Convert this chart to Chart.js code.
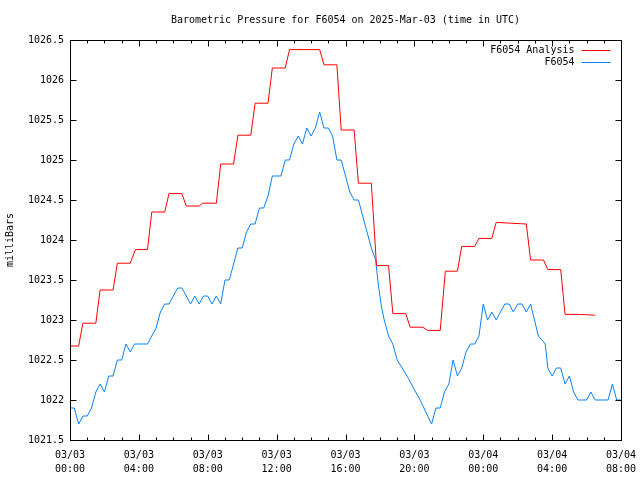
<!DOCTYPE html>
<html>
<head>
<meta charset="utf-8">
<script src="https://cdn.jsdelivr.net/npm/chart.js@4.4.1/dist/chart.umd.min.js"></script>
<style>
  html, body { margin: 0; padding: 0; background: #ffffff; }
  #wrap { width: 640px; height: 480px; }
</style>
</head>
<body>
<div id="wrap"><canvas id="c" width="640" height="480"></canvas></div>
<script>
// ---- data (hours since 03/03 00:00 UTC) ----
const chartTitle = 'Barometric Pressure for F6054 on 2025-Mar-03 (time in UTC)';
const yAxisTitle = 'milliBars';
const seriesNames = ['F6054 Analysis', 'F6054'];

const xTickDates = ['03/03', '03/03', '03/03', '03/03', '03/03', '03/03', '03/04', '03/04', '03/04'];
const xTickTimes = ['00:00', '04:00', '08:00', '12:00', '16:00', '20:00', '00:00', '04:00', '08:00'];

const analysisTimes = [0, 0.5, 0.75, 1.5, 1.75, 2.5, 2.75, 3.5, 3.8, 4.5,
  4.75, 5.5, 5.75, 6.5, 6.75, 7.5, 7.7, 8.5, 8.75, 9.5,
  9.75, 10.5, 10.75, 11.5, 11.75, 12.5, 12.75, 14.5, 14.75, 15.5,
  15.75, 16.5, 16.75, 17.5, 17.8, 18.5, 18.75, 19.5, 19.75, 20.5,
  20.75, 21.5, 21.8, 22.5, 22.75, 23.5, 23.75, 24.5, 24.75, 25.6,
  26.5, 26.75, 27.5, 27.75, 28.5, 28.75, 29.6, 30.5];
const analysisValues = [1022.675, 1022.675, 1022.96, 1022.96, 1023.375, 1023.375, 1023.71, 1023.71, 1023.88, 1023.88,
  1024.35, 1024.35, 1024.58, 1024.58, 1024.425, 1024.425, 1024.46, 1024.46, 1024.95, 1024.95,
  1025.31, 1025.31, 1025.71, 1025.71, 1026.15, 1026.15, 1026.38, 1026.38, 1026.19, 1026.19,
  1025.375, 1025.375, 1024.71, 1024.71, 1023.68, 1023.68, 1023.08, 1023.08, 1022.91, 1022.91,
  1022.87, 1022.87, 1023.61, 1023.61, 1023.92, 1023.92, 1024.02, 1024.02, 1024.22, 1024.21,
  1024.20, 1023.75, 1023.75, 1023.63, 1023.63, 1023.07, 1023.07, 1023.06];

const obsTimes = [0, 0.25, 0.5, 0.75, 1.0, 1.25, 1.5, 1.75, 2.0, 2.25,
  2.5, 2.75, 3.0, 3.25, 3.5, 3.75, 4.5, 5.0, 5.25, 5.5,
  5.75, 6.25, 6.5, 7.0, 7.25, 7.5, 7.75, 8.0, 8.25, 8.5,
  8.75, 9.0, 9.25, 9.5, 9.75, 10.0, 10.25, 10.5, 10.75, 11.0,
  11.25, 11.5, 11.75, 12.25, 12.5, 12.75, 13.0, 13.25, 13.5, 13.75,
  14.0, 14.25, 14.5, 14.75, 15.0, 15.25, 15.5, 15.75, 16.0, 16.25,
  16.5, 16.75, 17.0, 17.25, 17.5, 17.75, 17.9, 18.1, 18.25, 18.5,
  18.75, 19.0, 19.35, 19.65, 19.95, 20.33, 21.0, 21.25, 21.5, 21.75,
  22.0, 22.25, 22.5, 22.75, 23.0, 23.25, 23.5, 23.75, 24.0, 24.25,
  24.5, 24.75, 25.0, 25.25, 25.5, 25.75, 26.0, 26.25, 26.5, 26.75,
  27.2, 27.4, 27.6, 27.75, 28.0, 28.25, 28.5, 28.75, 29.0, 29.25,
  29.5, 30.0, 30.25, 30.5, 31.25, 31.5, 31.75, 32.0];
const obsValues = [1021.9, 1021.9, 1021.7, 1021.8, 1021.8, 1021.9, 1022.1, 1022.2, 1022.1, 1022.3,
  1022.3, 1022.5, 1022.5, 1022.7, 1022.6, 1022.7, 1022.7, 1022.9, 1023.1, 1023.2,
  1023.2, 1023.4, 1023.4, 1023.2, 1023.3, 1023.2, 1023.3, 1023.3, 1023.2, 1023.3,
  1023.2, 1023.5, 1023.5, 1023.7, 1023.9, 1023.9, 1024.1, 1024.2, 1024.2, 1024.4,
  1024.4, 1024.55, 1024.8, 1024.8, 1025.0, 1025.0, 1025.2, 1025.3, 1025.2, 1025.4,
  1025.3, 1025.4, 1025.6, 1025.4, 1025.4, 1025.3, 1025.0, 1025.0, 1024.8, 1024.6,
  1024.5, 1024.5, 1024.3, 1024.1, 1023.9, 1023.75, 1023.45, 1023.15, 1023.0, 1022.8,
  1022.7, 1022.5, 1022.38, 1022.27, 1022.15, 1022.0, 1021.7, 1021.9, 1021.9, 1022.1,
  1022.2, 1022.5, 1022.3, 1022.4, 1022.6, 1022.7, 1022.7, 1022.8, 1023.2, 1023.0,
  1023.1, 1023.0, 1023.1, 1023.2, 1023.2, 1023.1, 1023.2, 1023.2, 1023.1, 1023.2,
  1022.8, 1022.75, 1022.7, 1022.4, 1022.3, 1022.4, 1022.4, 1022.2, 1022.3, 1022.1,
  1022.0, 1022.0, 1022.1, 1022.0, 1022.0, 1022.2, 1022.0, 1022.0];

const X_MIN = 0, X_MAX = 32, X_MAJOR = 4, X_MINOR = 1;
const Y_MIN = 1021.5, Y_MAX = 1026.5, Y_MAJOR = 0.5;

// ---- styling ----
const FONT = 'DejaVu Sans Mono';
const seriesColors = ['#ff0000', '#0a80ff'];

function toPoints(xs, ys) { return xs.map((x, i) => ({ x: x, y: ys[i] })); }

// Gnuplot-style frame with inward ticks and a right-aligned key
const framePlugin = {
  id: 'gnuFrame',
  afterDatasetsDraw(chart) {
    const ctx = chart.ctx;
    const ca = chart.chartArea;
    const xs = chart.scales.x, ys = chart.scales.y;
    const L = Math.round(ca.left) + 0.5, R = Math.round(ca.right) + 0.5;
    const T = Math.round(ca.top) + 0.5, B = Math.round(ca.bottom) + 0.5;
    ctx.save();
    ctx.strokeStyle = '#000000';
    ctx.lineWidth = 1;
    ctx.beginPath();
    ctx.rect(L, T, R - L, B - T);
    ctx.stroke();
    ctx.beginPath();
    for (let v = X_MIN; v <= X_MAX + 1e-9; v += X_MINOR) {
      const px = Math.round(xs.getPixelForValue(v)) + 0.5;
      const len = (Math.abs(v / X_MAJOR - Math.round(v / X_MAJOR)) < 1e-6) ? 6 : 3;
      ctx.moveTo(px, B); ctx.lineTo(px, B - len);
      ctx.moveTo(px, T); ctx.lineTo(px, T + len);
    }
    for (let v = Y_MIN; v <= Y_MAX + 1e-9; v += Y_MAJOR) {
      const py = Math.round(ys.getPixelForValue(v)) + 0.5;
      ctx.moveTo(L, py); ctx.lineTo(L + 6, py);
      ctx.moveTo(R, py); ctx.lineTo(R - 6, py);
    }
    ctx.stroke();

    // key (legend): text right-aligned, then a line sample
    ctx.font = '10px "' + FONT + '"';
    ctx.textAlign = 'right';
    ctx.textBaseline = 'middle';
    chart.data.datasets.forEach((ds, i) => {
      const y = Math.round(ca.top + 10 + i * 12) + 0.5;
      ctx.fillStyle = '#000000';
      ctx.fillText(ds.label, R - 47, y);
      ctx.strokeStyle = ds.borderColor;
      ctx.beginPath();
      ctx.moveTo(R - 40, y); ctx.lineTo(R - 11, y);
      ctx.stroke();
    });
    ctx.restore();
  }
};

new Chart(document.getElementById('c'), {
  type: 'line',
  data: {
    datasets: [
      { label: seriesNames[0], data: toPoints(analysisTimes, analysisValues),
        borderColor: seriesColors[0], borderWidth: 1, pointRadius: 0, tension: 0, fill: false },
      { label: seriesNames[1], data: toPoints(obsTimes, obsValues),
        borderColor: seriesColors[1], borderWidth: 1, pointRadius: 0, tension: 0, fill: false }
    ]
  },
  options: {
    responsive: false,
    animation: false,
    devicePixelRatio: 1,
    layout: { padding: { left: 0, right: 19, top: 0, bottom: 0 } },
    plugins: {
      legend: { display: false },
      tooltip: { enabled: false },
      title: {
        display: true, text: chartTitle, fullSize: false, color: '#000000',
        font: { family: FONT, size: 10, weight: 'normal', lineHeight: 1.2 },
        padding: { top: 14, bottom: 14 }
      }
    },
    scales: {
      x: {
        type: 'linear', min: X_MIN, max: X_MAX,
        grid: { display: false, drawTicks: false },
        border: { display: false },
        ticks: {
          stepSize: X_MAJOR, autoSkip: false, maxRotation: 0, minRotation: 0,
          color: '#000000', padding: 8,
          font: { family: FONT, size: 10, lineHeight: 1.4 },
          callback: (v) => { const i = Math.round(v / X_MAJOR); return [xTickDates[i], xTickTimes[i]]; }
        },
        afterFit: (s) => { s.height = 40; s.paddingLeft = 0; s.paddingRight = 0; }
      },
      y: {
        type: 'linear', min: Y_MIN, max: Y_MAX,
        grid: { display: false, drawTicks: false },
        border: { display: false },
        ticks: {
          stepSize: Y_MAJOR, color: '#000000', padding: 6,
          font: { family: FONT, size: 10 },
          callback: (v) => String(v)
        },
        title: {
          display: true, text: yAxisTitle, color: '#000000',
          font: { family: FONT, size: 10, weight: 'normal' },
          padding: { top: 4, bottom: 0 }
        },
        afterFit: (s) => { s.width = 70; s.paddingTop = 0; s.paddingBottom = 0; }
      }
    }
  },
  plugins: [framePlugin]
});
</script>
</body>
</html>
